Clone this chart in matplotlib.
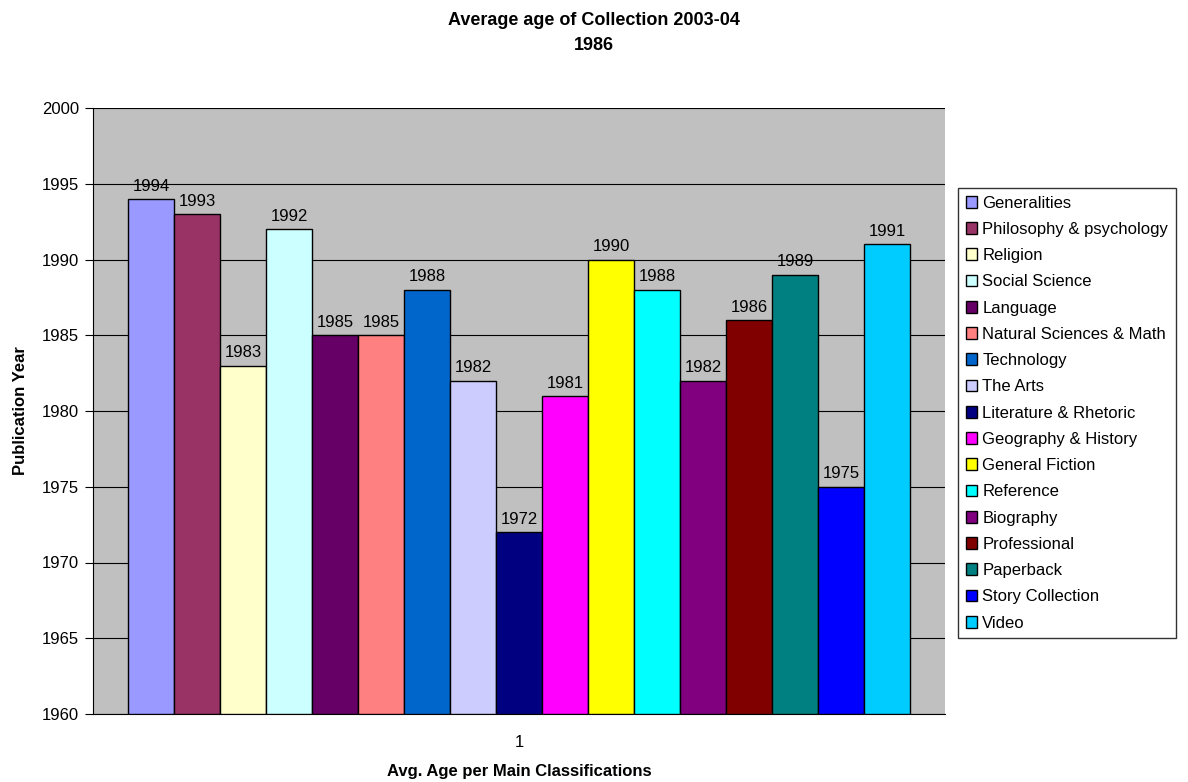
import matplotlib
matplotlib.use('Agg')
from matplotlib import pyplot as plt

plt.rcParams['font.family'] = ['Liberation Sans', 'DejaVu Sans']

categories = ['Generalities', 'Philosophy & psychology', 'Religion', 'Social Science',
              'Language', 'Natural Sciences & Math', 'Technology', 'The Arts',
              'Literature & Rhetoric', 'Geography & History', 'General Fiction',
              'Reference', 'Biography', 'Professional', 'Paperback',
              'Story Collection', 'Video']
years = [1994, 1993, 1983, 1992, 1985, 1985, 1988, 1982, 1972, 1981,
         1990, 1988, 1982, 1986, 1989, 1975, 1991]
colors = ['#9999FF', '#993366', '#FFFFCC', '#CCFFFF', '#660066', '#FF8080',
          '#0066CC', '#CCCCFF', '#000080', '#FF00FF', '#FFFF00', '#00FFFF',
          '#800080', '#800000', '#008080', '#0000FF', '#00CCFF']
yticks = [1960, 1965, 1970, 1975, 1980, 1985, 1990, 1995, 2000]

fig = plt.figure(figsize=(11.88, 7.82), dpi=100)
ax = fig.add_axes([93/1188, 68/782, 852/1188, 606/782])
ax.set_facecolor('#C0C0C0')

n = len(years)
group = 0.918
w = group / n
base = 1960
for i in range(n):
    x = 1 - group/2 + w*(i + 0.5)
    ax.bar(x, years[i] - base, bottom=base, width=w, color=colors[i],
           edgecolor='black', linewidth=1, label=categories[i], zorder=3)
    ax.text(x, years[i] + 0.35, str(years[i]), ha='center', va='bottom',
            fontsize=12, zorder=4)

ax.set_xlim(0.5, 1.5)
ax.set_ylim(1960, 2000)
ax.set_yticks(yticks)
ax.set_xticks([1])
ax.set_xticklabels(['1'])
ax.yaxis.grid(True, color='#000000', linewidth=0.8, zorder=0)
ax.set_axisbelow(True)
for s in ['top', 'right']:
    ax.spines[s].set_visible(False)
ax.spines['left'].set_color('#000000')
ax.spines['bottom'].set_color('#000000')
ax.tick_params(axis='y', direction='out', length=6, labelsize=12, pad=4)
ax.tick_params(axis='x', length=0, labelsize=12, pad=15)

ax.set_ylabel('Publication Year', fontsize=12, fontweight='bold', labelpad=10)
ax.set_xlabel('Avg. Age per Main Classifications', fontsize=12, fontweight='bold', labelpad=10)
fig.suptitle('Average age of Collection 2003-04\n1986', fontsize=13, fontweight='bold',
             y=0.985, linespacing=1.6)

leg = ax.legend(loc='upper left', bbox_to_anchor=(958/852 - 93/852, (782-188-68)/606),
                frameon=True, fancybox=False, edgecolor='black', fontsize=12,
                handlelength=0.7, handleheight=0.7, handletextpad=0.3,
                labelspacing=0.675, borderpad=0.45, borderaxespad=0)
leg.get_frame().set_linewidth(1)

fig.savefig('out.png', dpi=100)
